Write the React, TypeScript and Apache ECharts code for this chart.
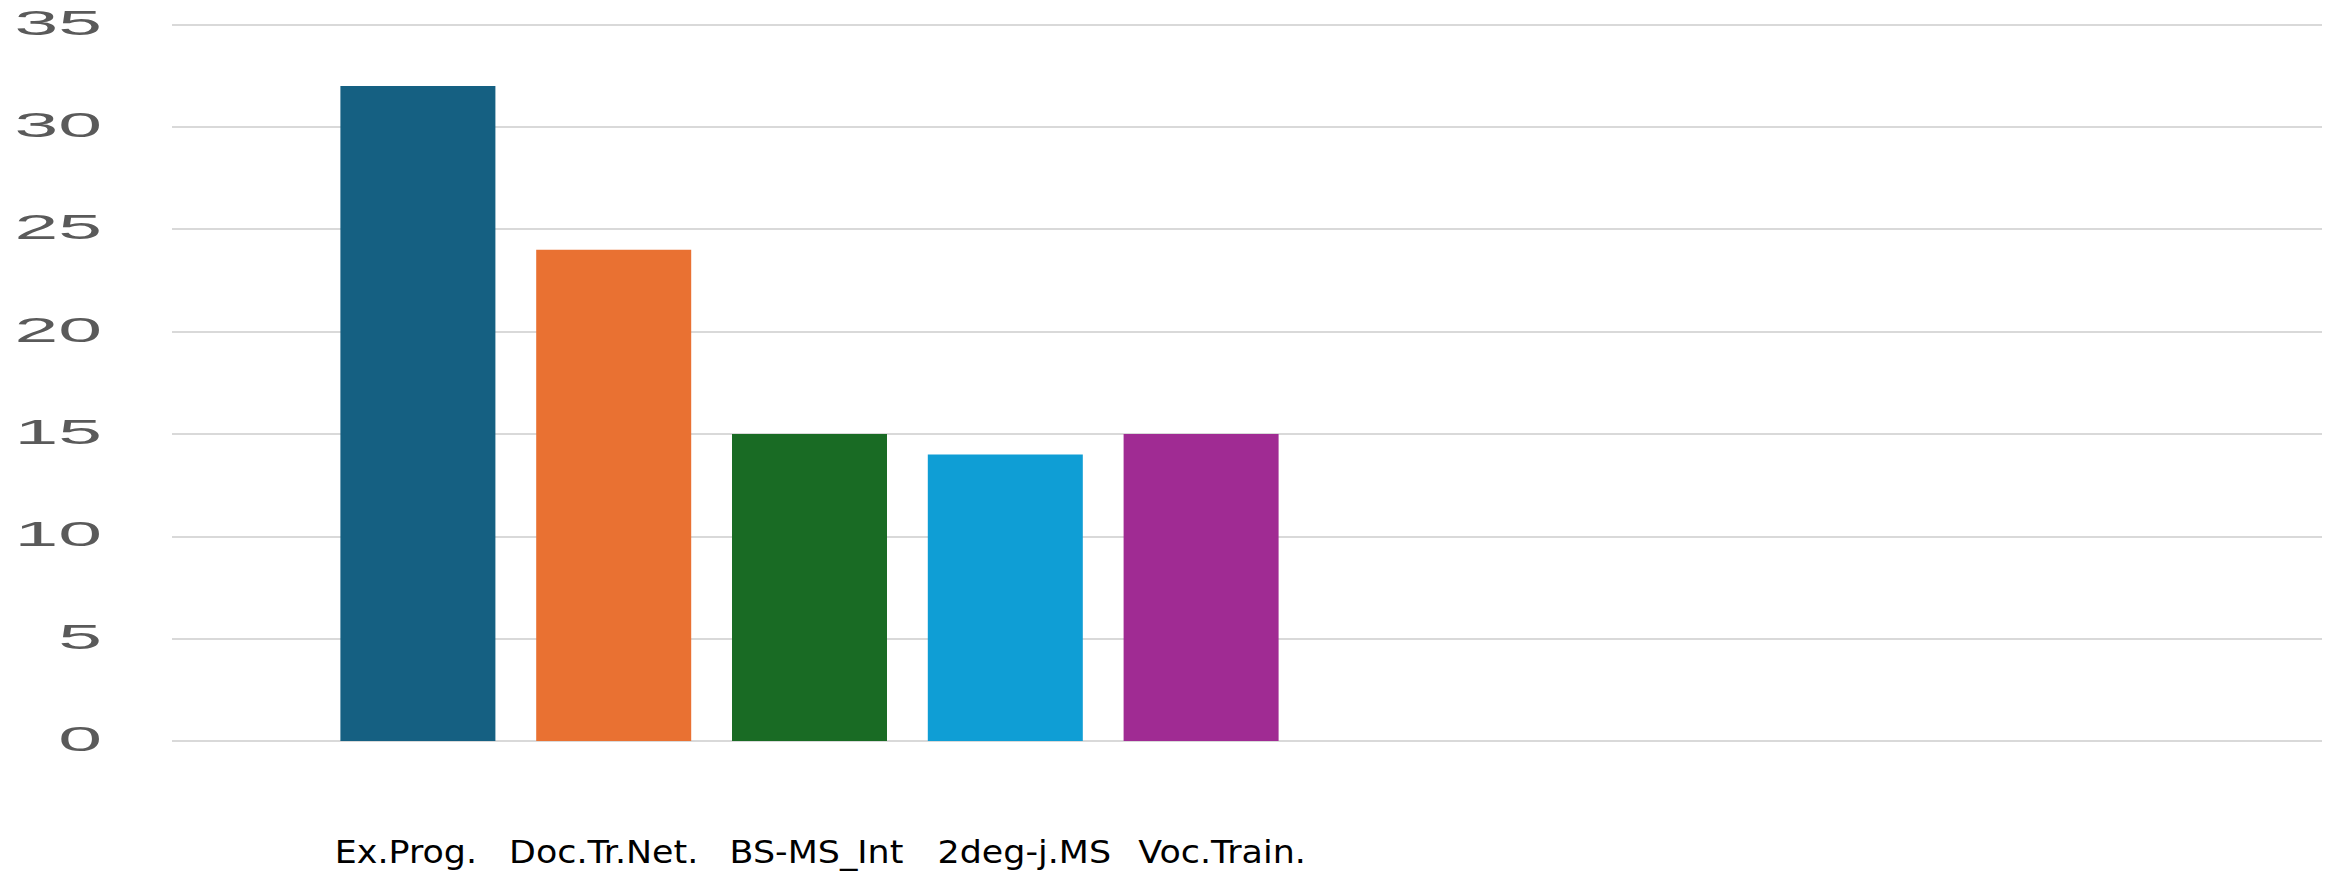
import React, { useEffect, useRef } from "react";
import * as echarts from "echarts";

const categories = ["Ex.Prog.", "Doc.Tr.Net.", "BS-MS_Int", "2deg-j.MS", "Voc.Train."];
const values = [32, 24, 15, 14, 15];
const barColors = ["#156082", "#E97132", "#196B24", "#0F9ED5", "#A02B93"];
const yTicks = [0, 5, 10, 15, 20, 25, 30, 35];
// horizontal nudge of each category label relative to its bar centre (px)
const labelShift = [-12, -10, 7, 19, 21];

export default function App() {
  const ref = useRef<HTMLDivElement>(null);
  useEffect(() => {
    if (!ref.current) return;
    const chart = echarts.init(ref.current, null, { renderer: "svg" });
    const option: any = {
      animation: false,
      backgroundColor: "#ffffff",
      grid: [
        { left: 172, right: 11, top: 24.5, bottom: 135 },
        { left: 320, width: 979, top: 24.5, bottom: 135 },
      ],
      xAxis: [
        { gridIndex: 0, type: "category", data: [""], show: false },
        {
          gridIndex: 1,
          type: "category",
          data: categories,
          axisLine: { show: false },
          axisTick: { show: false },
          axisLabel: { show: false },
        },
      ],
      yAxis: [
        {
          gridIndex: 0,
          type: "value",
          min: 0,
          max: 35,
          interval: 5,
          axisLabel: { show: false },
          axisLine: { show: false },
          axisTick: { show: false },
          splitLine: { show: true, lineStyle: { color: "#d9d9d9", width: 2 } },
        },
        {
          gridIndex: 1,
          type: "value",
          min: 0,
          max: 35,
          interval: 5,
          show: false,
          splitLine: { show: false },
        },
      ],
      series: [
        {
          type: "bar",
          xAxisIndex: 1,
          yAxisIndex: 1,
          barWidth: 155,
          data: values.map((v, i) => ({ value: v, itemStyle: { color: barColors[i] } })),
        },
      ],
    };
    chart.setOption(option);
    const yLabels = yTicks.map((v) => {
      const y = chart.convertToPixel({ yAxisIndex: 0 } as any, v) as number;
      return {
        type: "text",
        x: 102,
        y: y - 2,
        scaleX: 2.25,
        style: {
          text: String(v),
          align: "right",
          verticalAlign: "middle",
          textAlign: "right",
          textVerticalAlign: "middle",
          fontFamily: "Liberation Sans",
          fontSize: 35,
          fill: "#5a5a5a",
        },
      };
    });
    const y0 = chart.convertToPixel({ yAxisIndex: 1 } as any, 0) as number;
    const xLabels = categories.map((c, i) => {
      const x = chart.convertToPixel({ xAxisIndex: 1 } as any, c) as number;
      return {
        type: "text",
        x: x + labelShift[i],
        y: y0 + 111.5,
        scaleX: 1.09,
        style: {
          text: c,
          align: "center",
          verticalAlign: "middle",
          textAlign: "center",
          textVerticalAlign: "middle",
          fontFamily: "DejaVu Sans",
          fontSize: 32,
          fill: "#000000",
        },
      };
    });
    chart.setOption({ graphic: [...yLabels, ...xLabels] });
    return () => chart.dispose();
  }, []);
  return (
    <div
      ref={ref}
      style={{ position: "fixed", left: 0, top: 0, width: 2333, height: 876 }}
    />
  );
}
